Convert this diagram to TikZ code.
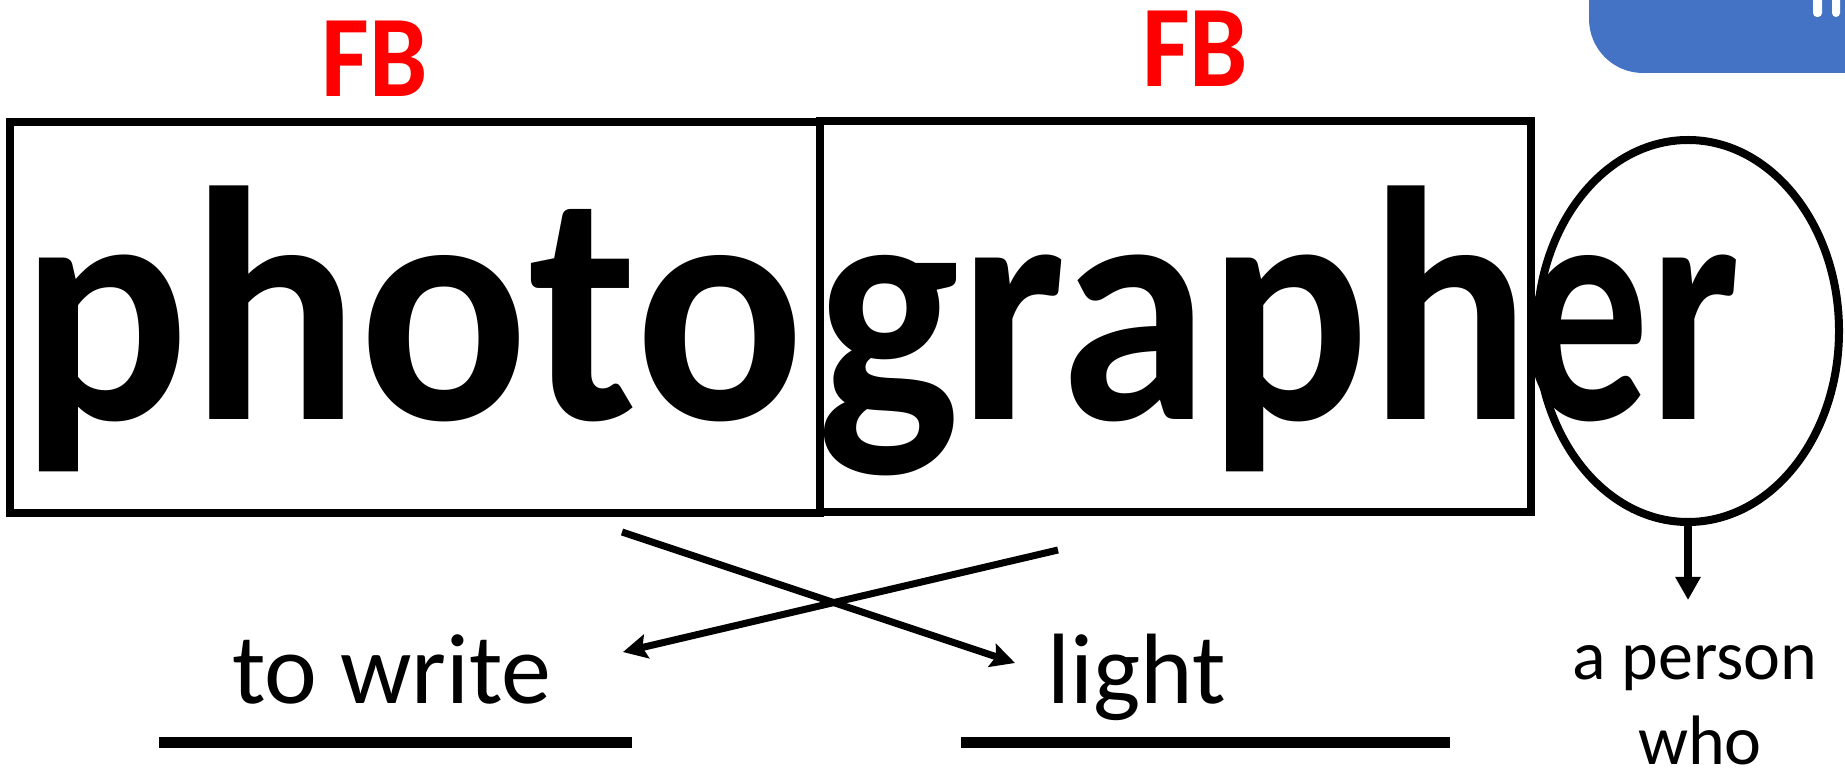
\documentclass[tikz,border=0pt]{standalone}
\usepackage{fontspec}
\usepackage{graphicx}
\setmainfont{Carlito}
\usetikzlibrary{arrows.meta,shapes.geometric}

\definecolor{morphrouge}{HTML}{FF0000}
\definecolor{morphbleu}{HTML}{4472C4}

\tikzset{
  morphbox/.style={draw, line width=4pt, inner sep=0pt},
  fblabel/.style={font=\fontsize{52}{62}\selectfont\bfseries, text=morphrouge, anchor=base, inner sep=0pt},
  gloss/.style={font=\fontsize{50}{60}\selectfont, anchor=base, inner sep=0pt},
  smallgloss/.style={font=\fontsize{35}{42}\selectfont, anchor=base, inner sep=0pt},
  crossarrow/.style={line width=3.5pt, -{Stealth[length=12pt, width=12pt, inset=2pt]}},
}

\begin{document}
\begin{tikzpicture}[x=0.5pt, y=-0.5pt]
\clip (0,0) rectangle (1845,779);
\fill[white] (0,0) rectangle (1845,779);
% corner tab
\fill[morphbleu, rounded corners=27pt] (1589,-60) rectangle (1900,73);
\fill[white, rounded corners=2pt] (1813,-10) rectangle (1822,17);
\fill[white, rounded corners=2pt] (1832,-10) rectangle (1840,17);

\node[font=\fontsize{150}{180}\selectfont\bfseries, anchor=base west, inner sep=0pt] (word) at (20.5,420)
  {\scalebox{1.05}[1.11]{photo}\kern7pt\scalebox{1}[1.11]{graph}\kern-4.5pt\scalebox{0.85}[1.11]{er}};

\node[morphbox, minimum width=405.25pt, minimum height=195.5pt] (photobox) at (414.75,317.5) {};
\node[morphbox, minimum width=355.5pt, minimum height=195.5pt] (graphbox) at (1175.5,316.5) {};
\node[morphbox, ellipse, minimum width=151pt, minimum height=191pt] (erellipse) at (1688,331) {};

\node[fblabel] (fbphoto) at (375,97) {\scalebox{1}[1.12]{FB}};
\node[fblabel] (fbgraph) at (1195,87) {\scalebox{1}[1.12]{FB}};

\node[gloss] (towrite) at (392,703) {to write};
\node[gloss] (light) at (1137,703) {light};
\node[smallgloss] (aperson) at (1695,679) {a person};
\node[smallgloss] (who) at (1700,764) {who};

\coordinate (photofoot) at (622,532);
\coordinate (lighttip) at (1015,663);
\coordinate (graphfoot) at (1058,550);
\coordinate (writetip) at (623,652);
\coordinate (whotip) at (1688,600);

\draw[crossarrow] (photofoot) -- (lighttip);
\draw[crossarrow] (graphfoot) -- (writetip);
\draw[line width=3.8pt, -{Triangle[length=11.5pt, width=12pt]}] (erellipse.south) -- (whotip);

% blanks
\draw[line width=5.5pt] (159,742) -- (632,742);
\draw[line width=5.5pt] (961,742) -- (1450,742);
\end{tikzpicture}
\end{document}
